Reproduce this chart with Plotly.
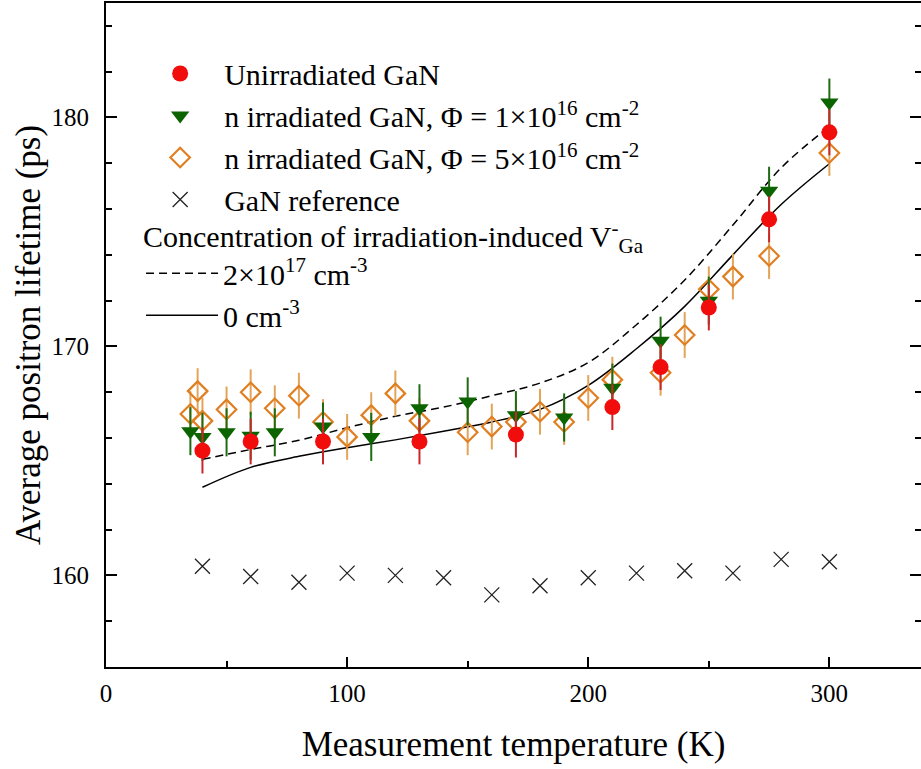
import plotly.graph_objects as go

# ---- data ----
t_unirr = [40, 60, 90, 130, 170, 210, 230, 250, 275, 300]
v_unirr = [165.45, 165.85, 165.85, 165.85, 166.15, 167.35, 169.1, 171.7, 175.55, 179.35]
e_unirr = [1.0] * len(t_unirr)

t_n16 = [35, 40, 50, 60, 70, 90, 110, 130, 150, 170, 190, 210, 230, 250, 275, 300]
v_n16 = [166.3, 166.05, 166.25, 166.1, 166.25, 166.5, 166.05, 167.3, 167.6, 167.0, 166.9,
         168.2, 170.25, 172.0, 176.8, 180.65]
e_n16 = [1.05] * len(t_n16)

t_n516 = [35, 38, 40, 50, 60, 70, 80, 90, 100, 110, 120, 130, 150, 160, 170, 180, 190,
          200, 210, 230, 240, 250, 260, 275, 300]
v_n516 = [167.05, 168.05, 166.75, 167.25, 168.0, 167.3, 167.85, 166.7, 166.05, 167.0,
          167.95, 166.75, 166.25, 166.5, 166.7, 167.15, 166.7, 167.75, 168.55, 168.85,
          170.5, 172.5, 173.05, 173.95, 178.45]
e_n516 = [1.0] * len(t_n516)

t_ref = [40, 60, 80, 100, 120, 140, 160, 180, 200, 220, 240, 260, 280, 300]
v_ref = [160.4, 159.95, 159.7, 160.1, 160.0, 159.9, 159.15, 159.55, 159.9, 160.1,
         160.2, 160.1, 160.7, 160.6]

t_model = [40, 60, 80, 100, 120, 140, 160, 180, 200, 220, 240, 260, 280, 300]
v_model_2e17 = [165.07, 165.5, 165.9, 166.45, 166.95, 167.35, 167.85, 168.4, 169.3,
                170.95, 172.9, 175.3, 177.8, 179.6]
v_model_0 = [163.85, 164.72, 165.2, 165.58, 165.92, 166.3, 166.7, 167.25, 168.3,
             169.9, 171.75, 174.0, 176.2, 177.98]

FONT = "Liberation Serif"

fig = go.Figure()

fig.add_trace(go.Scatter(
    x=t_model, y=v_model_2e17, mode="lines", line_shape="spline",
    line=dict(color="black", width=1.5, dash="8px,5px"),
    name="2×10<sup>17</sup> cm<sup>-3</sup>", legend="legend2"))
fig.add_trace(go.Scatter(
    x=t_model, y=v_model_0, mode="lines", line_shape="spline",
    line=dict(color="black", width=1.5),
    name="0 cm<sup>-3</sup>", legend="legend2"))

fig.add_trace(go.Scatter(
    x=t_ref, y=v_ref, mode="markers",
    marker=dict(symbol="x-thin", size=15, line=dict(color="#222222", width=1.3)),
    name="GaN reference", legendrank=4))

fig.add_trace(go.Scatter(
    x=t_n516, y=v_n516, mode="markers",
    error_y=dict(type="data", array=e_n516, color="#E3A45A", thickness=2, width=0),
    marker=dict(symbol="diamond-open", size=15, color="#E07F22", line=dict(width=2.2)),
    name="n irradiated GaN, Φ = 5×10<sup>16</sup> cm<sup>-2</sup>", legendrank=3))

fig.add_trace(go.Scatter(
    x=t_n16, y=v_n16, mode="markers",
    error_y=dict(type="data", array=e_n16, color="#1E6B12", thickness=2, width=0),
    marker=dict(symbol="triangle-down", size=16, color="#0B6400"),
    name="n irradiated GaN, Φ = 1×10<sup>16</sup> cm<sup>-2</sup>", legendrank=2))

fig.add_trace(go.Scatter(
    x=t_unirr, y=v_unirr, mode="markers",
    error_y=dict(type="data", array=e_unirr, color="#C8282A", thickness=2, width=0),
    marker=dict(symbol="circle", size=16, color="#F20D0D"),
    name="Unirradiated GaN", legendrank=1))

fig.update_layout(
    width=921, height=769,
    margin=dict(l=106, r=0, t=3, b=102, autoexpand=False),
    paper_bgcolor="white", plot_bgcolor="white",
    font=dict(family=FONT, color="black"),
    showlegend=True,
    legend=dict(x=0.037, y=0.933, xanchor="left", yanchor="top",
                bgcolor="rgba(0,0,0,0)", font=dict(size=30, family=FONT),
                itemwidth=78, traceorder="normal", tracegroupgap=0),
    legend2=dict(x=0.043, y=0.691, xanchor="left", yanchor="top",
                 bgcolor="rgba(0,0,0,0)", font=dict(size=30, family=FONT),
                 itemwidth=72,
                 title=dict(text="Concentration of irradiation-induced V<sup>-</sup><sub>Ga</sub>",
                            font=dict(size=30, family=FONT))),
)

fig.update_xaxes(
    range=[0, 338], showline=True, linecolor="black", linewidth=2, mirror=True,
    showgrid=False, zeroline=False, automargin=False,
    ticks="inside", ticklen=10, tickwidth=2, tickcolor="black",
    tickvals=[0, 100, 200, 300], ticktext=["0", "100", "200", "300"],
    minor=dict(ticks="inside", ticklen=6, tickwidth=2, tickcolor="black", dtick=50,
               showgrid=False),
    tickfont=dict(size=25, family=FONT), ticklabelstandoff=3,
    title=dict(text="Measurement temperature (K)", font=dict(size=35, family=FONT), standoff=25),
)
fig.update_yaxes(
    range=[156, 185], showline=True, linecolor="black", linewidth=2, mirror="ticks",
    showgrid=False, zeroline=False, automargin=False,
    ticks="inside", ticklen=11, tickwidth=2, tickcolor="black",
    tickvals=[160, 170, 180],
    minor=dict(ticks="inside", ticklen=6, tickwidth=1.5, tickcolor="black", dtick=2,
               showgrid=False),
    tickfont=dict(size=25, family=FONT), ticklabelstandoff=10,
    title=dict(text="Average positron lifetime (ps)", font=dict(size=35, family=FONT), standoff=0),
)

fig.write_html("out.html", config={"displayModeBar": False},
               post_script="document.body.style.margin='0';document.body.style.padding='0';")
